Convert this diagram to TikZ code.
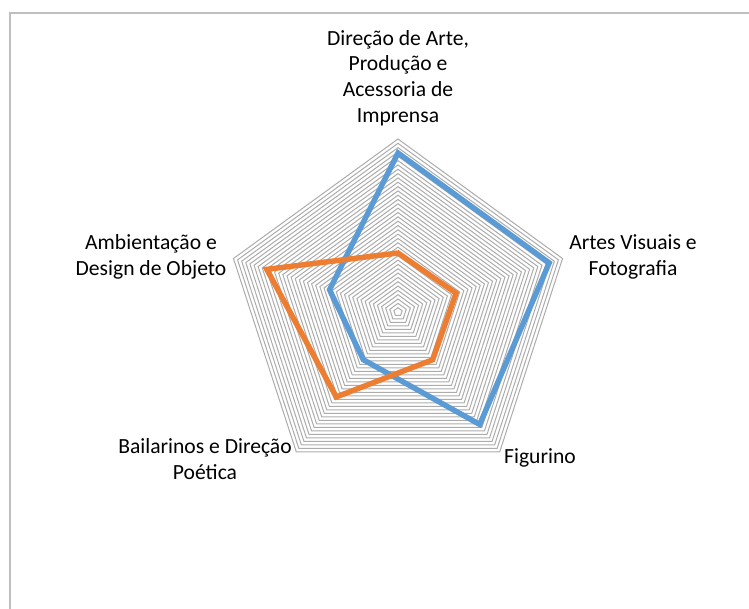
\documentclass[tikz,border=0pt]{standalone}
\usepackage{fontspec}
\setmainfont{Carlito}
\usetikzlibrary{positioning}
\definecolor{seriesblue}{HTML}{5B9BD5}
\definecolor{seriesorange}{HTML}{ED7D31}

\begin{document}
\begin{tikzpicture}[x=0.5pt,y=0.5pt,
  ring/.style={color=gray!65, line width=0.5pt},
  series/.style={line width=2.7pt, line join=miter},
  axislabel/.style={align=center, inner sep=0pt, font=\fontsize{10.8}{12.8}\selectfont}]
\useasboundingbox (0,0) rectangle (749,609);
\draw[color=gray!50, line width=0.75pt] (10,-10) |- (760,596); % chart frame

\begin{scope}[shift={(398,297)}]
\foreach \r in {1,...,40} % edit here for the rings
\draw[ring] (90:\r*4.325) -- (18:\r*4.325) -- (-54:\r*4.325) -- (-126:\r*4.325) -- (-198:\r*4.325) -- cycle;

\foreach \v [count=\i] in {159,159,139,59,72} % edit here for the blue values
\coordinate (b\i) at ({90-72*(\i-1)}:\v);
\foreach \v [count=\i] in {59,61,59,105,138} % edit here for the orange values
\coordinate (o\i) at ({90-72*(\i-1)}:\v);

\draw[series, color=seriesblue] (b1) -- (b2) -- (b3) -- (b4) -- (b5) -- cycle;
\draw[series, color=seriesorange] (o1) -- (o2) -- (o3) -- (o4) -- (o5) -- cycle;
\end{scope}

\node[axislabel] (arte) at (398,531) {Direção de Arte,\\Produção e\\Acessoria de\\Imprensa};
\node[axislabel] (visuais) at (633,352) {Artes Visuais e\\Fotografia};
\node[axislabel] (figurino) at (540,151) {Figurino};
\node[axislabel] (bailarinos) at (205,150) {Bailarinos e Direção\\Poética};
\node[axislabel] (ambiente) at (151,352) {Ambientação e\\Design de Objeto};
\end{tikzpicture}
\end{document}
